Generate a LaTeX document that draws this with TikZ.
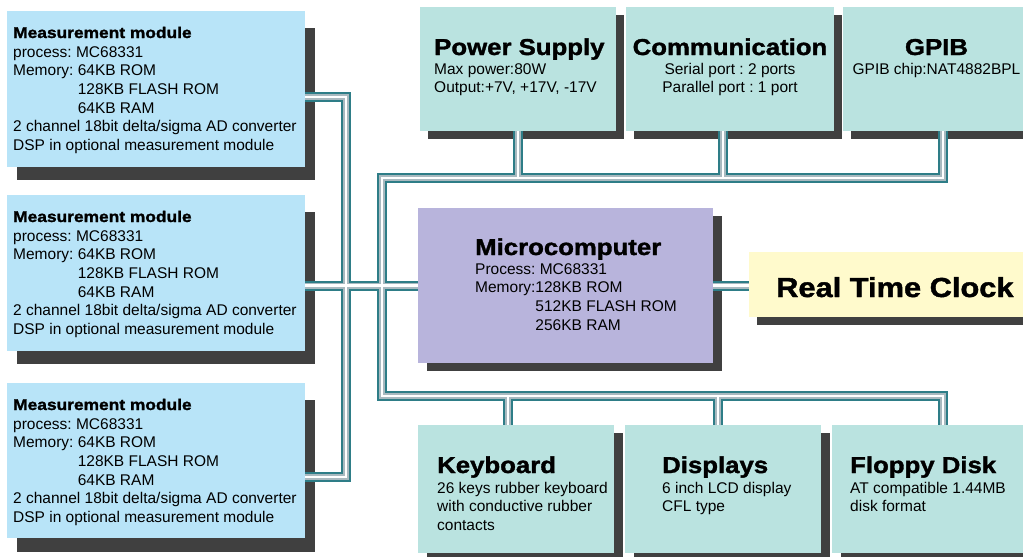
\documentclass[tikz,border=0pt]{standalone}
\usepackage{fontspec}
\setmainfont{Liberation Sans}
\newfontfamily\headfont[FakeStretch=1.12, BoldFeatures={FakeBold=1.5}]{Liberation Sans}
\usetikzlibrary{positioning}
\frenchspacing

\definecolor{measblue}{HTML}{B8E4F8}
\definecolor{unitgreen}{HTML}{BAE3E0}
\definecolor{cpupurple}{HTML}{B8B4DC}
\definecolor{clockyellow}{HTML}{FFFACC}
\definecolor{shadegray}{HTML}{404040}
\definecolor{busedge}{HTML}{2E7D87}
\definecolor{busgray}{HTML}{A9B9BF}

\pgfdeclarelayer{shade}
\pgfdeclarelayer{bus}
\pgfsetlayers{shade,bus,main}

\begin{document}
\begin{tikzpicture}[x=1pt,y=-1pt,
  every node/.style={inner sep=0pt},
  meas/.style={fill=measblue, minimum width=298, minimum height=156},
  unit/.style={fill=unitgreen, minimum width=196, minimum height=128},
  head/.style={font=\headfont\bfseries\fontsize{23}{26}\selectfont, anchor=base west},
  mhead/.style={font=\headfont\bfseries\fontsize{15.5}{18}\selectfont, anchor=base west},
  % body texts are placed at the baseline of their last line
  body/.style={font=\fontsize{15.5}{18.7}\selectfont, align=left, anchor=base west},
  bus/.style={draw=busedge, line width=10pt,
    postaction={draw=busgray, line width=6pt},
    postaction={draw=white, line width=2.5pt}}]
\useasboundingbox (0,0) rectangle (1023,557);

% measurement modules
\node[meas] (m1) at (156,89) {};
\node[meas] (m2) at (156,273) {};
\node[meas, minimum height=155] (m3) at (156,460.5) {};
\foreach \m/\y in {1/38, 2/222, 3/410} {
  \node[mhead] (m\m h) at (13,\y) {Measurement module};
  \node[body] at (13,\y+112.5) {process: MC68331\\Memory: 64KB ROM\\
    \phantom{Memory: }128KB FLASH ROM\\\phantom{Memory: }64KB RAM\\
    2 channel 18bit delta/sigma AD converter\\DSP in optional measurement module};
}

% top row
\node[unit, minimum height=124] (ps) at (518,69) {};
\node[unit, minimum width=208, minimum height=124] (com) at (730,69) {};
\node[unit, minimum width=187, minimum height=124] (gpib) at (936.5,69) {};
\node[head] at (434,55) {Power Supply};
\node[body] at (434,92.7) {Max power:80W\\Output:+7V, +17V, -17V};
\node[head, anchor=base] at (730,55) {Communication};
\node[body, align=center, anchor=base] at (730,92.7) {Serial port : 2 ports\\Parallel port : 1 port};
\node[head, anchor=base] at (936.5,55) {GPIB};
\node[body, anchor=base] at (936.5,74) {GPIB chip:NAT4882BPL};

% microcomputer and clock
\node[fill=cpupurple, minimum width=295, minimum height=155] (mc) at (565.5,285.5) {};
\node[head] at (475,255) {Microcomputer};
\node[body] at (475,330.1) {Process: MC68331\\Memory:128KB ROM\\
  \phantom{Memory:}512KB FLASH ROM\\\phantom{Memory:}256KB RAM};
\node[fill=clockyellow, minimum width=281, minimum height=65] (rtc) at (889.5,284.5) {};
\node[head, font=\headfont\bfseries\fontsize{27.5}{30}\selectfont] at (776,297) {Real Time Clock};

% bottom row
\node[unit] (kb) at (516,489) {};
\node[unit] (dsp) at (723,489) {};
\node[unit, minimum width=198] (fd) at (931,489) {};
\node[head] at (437,473) {Keyboard};
\node[body] at (437,530.4) {26 keys rubber keyboard\\with conductive rubber\\contacts};
\node[head] at (662,473) {Displays};
\node[body] at (662,511.7) {6 inch LCD display\\CFL type};
\node[head] at (850,473) {Floppy Disk};
\node[body] at (850,511.7) {AT compatible 1.44MB\\disk format};

% bus
\coordinate (lt) at (346,97);
\coordinate (lb) at (346,477);
\coordinate (tl) at (382,178);
\coordinate (tr) at (943,178);
\coordinate (bl) at (382,396);
\coordinate (br) at (943,396);
\begin{pgfonlayer}{bus}
\draw[bus] (m1.east |- lt) -- (lt) -- (lb) -- (m3.east |- lb)
  (m2.east |- mc.west) -- (mc.west)
  (mc.east) -- (rtc.west |- mc.east)
  (gpib.south -| tr) -- (tr) -- (tl) -- (bl) -- (br) -- (fd.north -| br)
  (ps.south) -- (ps.south |- tl)
  ([xshift=-7pt]com.south) -- ([xshift=-7pt]com.south |- tl)
  ([xshift=-8pt]kb.north) -- ([xshift=-8pt]kb.north |- bl)
  ([xshift=-5pt]dsp.north) -- ([xshift=-5pt]dsp.north |- bl);
\end{pgfonlayer}

% shadows
\begin{pgfonlayer}{shade}
\foreach \b/\dx/\dt/\db in {m1/10/17/13, m2/10/17/13, m3/10/17/14, ps/8/8/8, com/8/8/8,
    gpib/8/8/8, mc/9/8/8, rtc/8/8/8, kb/9/8/8, dsp/9/8/8, fd/9/8/8}
  \fill[shadegray] ([shift={(\dx,\dt)}]\b.north west) rectangle ([shift={(\dx,\db)}]\b.south east);
\end{pgfonlayer}
\end{tikzpicture}
\end{document}
